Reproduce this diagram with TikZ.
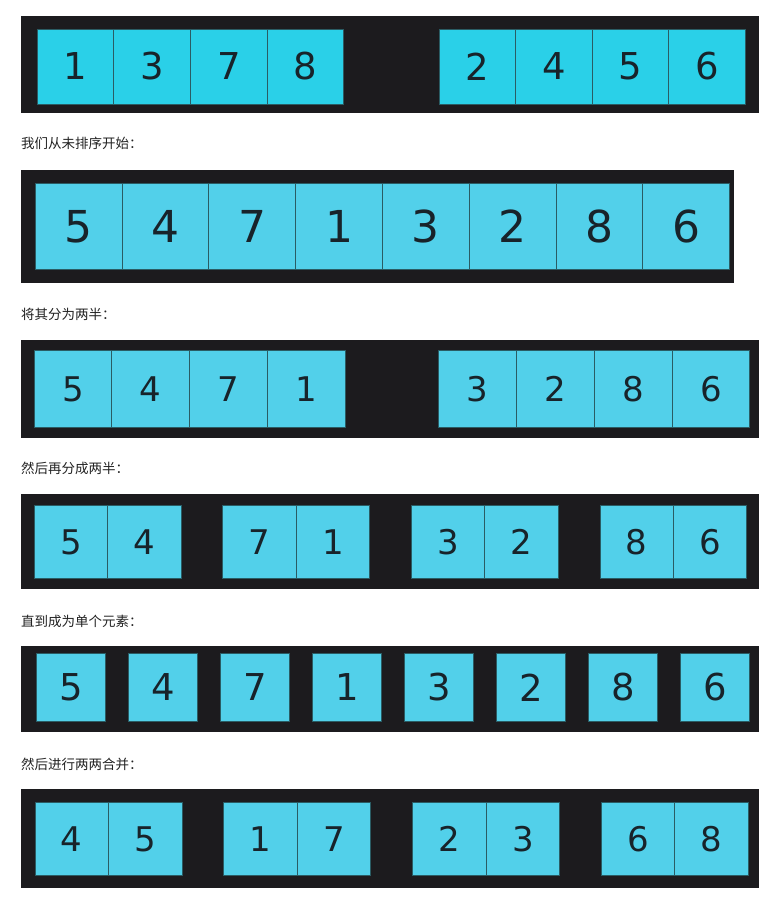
\documentclass[tikz,border=0pt]{standalone}
\usepackage{fontspec}
\setmainfont{DejaVu Sans}
\newfontfamily\cjk{Noto Sans CJK SC}
\definecolor{panelbg}{HTML}{1C1B1E}
\definecolor{cellA}{HTML}{2AD0E8}
\definecolor{cellB}{HTML}{52D0EA}
\definecolor{cellline}{HTML}{2A5C64}
\definecolor{digit}{HTML}{18232A}
\definecolor{caption}{HTML}{222222}
\newcommand{\digitsize}[1]{\fontsize{#1}{#1}\selectfont}

\tikzset{
  cell/.style={draw=cellline, line width=0.9pt, fill=cellB, text=digit,
    inner sep=0pt, outer sep=0pt, anchor=north west},
  panel/.style={fill=panelbg},
  note/.style={font=\cjk\fontsize{13.5}{15}\selectfont, text=caption,
    anchor=west, inner sep=0pt}
}

\begin{document}
\begin{tikzpicture}[x=1pt,y=-1pt]
  \fill[white] (0,0) rectangle (773,903);
  \useasboundingbox (0,0) rectangle (773,903);

  % Sorted result
  \fill[panel] (21,16) rectangle (759,113);
  \foreach \v [count=\i, evaluate=\i as \x using {37.3+int((\i-1)/4)*401.7+mod(\i-1,4)*76.6}] in {1,3,7,8,2,4,5,6}
    \node[cell, fill=cellA, minimum width=76.6pt, minimum height=75pt, font=\digitsize{37}] (top\i) at (\x,29) {\v};

  % Unsorted input
  \node[note] (cap1) at (21,143.5) {我们从未排序开始：};
  \fill[panel] (21,170) rectangle (734,283);
  \foreach \v [count=\i, evaluate=\i as \x using {35.3+(\i-1)*86.8}] in {5,4,7,1,3,2,8,6}
    \node[cell, minimum width=86.8pt, minimum height=86pt, font=\digitsize{44}] (raw\i) at (\x,183.3) {\v};

  % Two halves
  \node[note] (cap2) at (21,314) {将其分为两半：};
  \fill[panel] (21,340) rectangle (759,438);
  \foreach \v [count=\i, evaluate=\i as \x using {34+int((\i-1)/4)*404.7+mod(\i-1,4)*77.75}] in {5,4,7,1,3,2,8,6}
    \node[cell, minimum width=77.75pt, minimum height=76.6pt, font=\digitsize{34}] (half\i) at (\x,350.7) {\v};

  % Quarters
  \node[note] (cap3) at (21,468) {然后再分成两半：};
  \fill[panel] (21,494) rectangle (759,589);
  \foreach \v [count=\i, evaluate=\i as \x using {34.3+int((\i-1)/2)*188.6+mod(\i-1,2)*73.4}] in {5,4,7,1,3,2,8,6}
    \node[cell, minimum width=73.4pt, minimum height=73.7pt, font=\digitsize{34}] (quart\i) at (\x,505) {\v};

  % Single elements
  \node[note] (cap4) at (21,621) {直到成为单个元素：};
  \fill[panel] (21,646) rectangle (759,732);
  \foreach \v [count=\i, evaluate=\i as \x using {36.3+(\i-1)*92}] in {5,4,7,1,3,2,8,6}
    \node[cell, minimum width=69.6pt, minimum height=68.4pt, font=\digitsize{37}] (single\i) at (\x,653.3) {\v};

  % Pairwise merge
  \node[note] (cap5) at (21,764) {然后进行两两合并：};
  \fill[panel] (21,789) rectangle (759,888);
  \foreach \v [count=\i, evaluate=\i as \x using {35+int((\i-1)/2)*188.8+mod(\i-1,2)*73.5}] in {4,5,1,7,2,3,6,8}
    \node[cell, minimum width=73.5pt, minimum height=73pt, font=\digitsize{34}] (pair\i) at (\x,802.7) {\v};
\end{tikzpicture}
\end{document}
